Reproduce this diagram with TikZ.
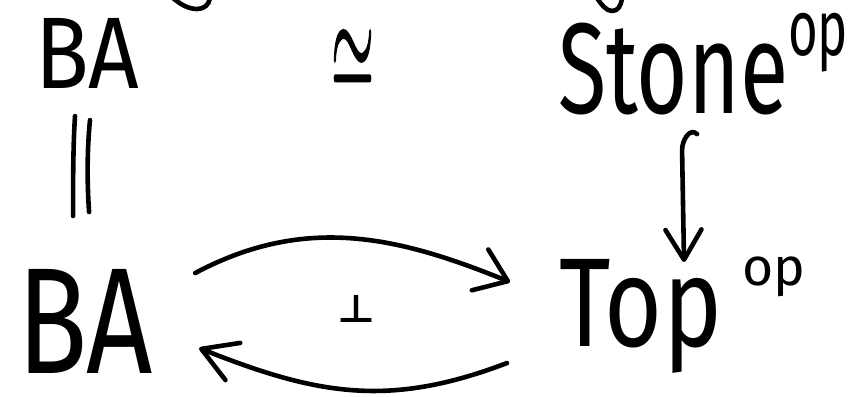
\documentclass[tikz,border=0pt]{standalone}
\usepackage{fontspec}
\setmainfont{Fira Sans}
\newfontfamily\dvsym{DejaVu Sans}
\newfontfamily\lmsym{latinmodern-math.otf}[FakeBold=1.5]
\usepackage{graphicx}
\usetikzlibrary{arrows.meta,calc}
\newcommand{\fitword}[3]{\resizebox*{#1pt}{#2pt}{#3}}
\tikzset{
  pen/.style={line width=4.6pt, line cap=round, line join=round},
  word/.style={inner sep=0pt, outer sep=0pt, anchor=north west}
}
\begin{document}
\begin{tikzpicture}[x=1pt,y=-1pt]
\useasboundingbox[fill=white] (0,0) rectangle (853,396);
% words
\node[word] (baT)    at (35,18)   {\fitword{104}{70}{BA}};
\node[word] (iso)    at (331,30)  {\fitword{43}{69}{\lmsym ≃}};
\node[word] (stone)  at (558,23)  {\fitword{230}{92}{Stone}};
\node[word] (stoneop) at (788,13) {\fitword{60}{59}{op}};
\node[word] (baB)    at (17,269)  {\fitword{136}{104}{BA}};
\node[word] (perp)   at (337,295) {\fitword{38}{27}{\dvsym\bfseries ⊥}};
\node[word] (top)    at (559,259) {\fitword{163}{114}{Top}};
\node[word] (topop)  at (742,257) {\fitword{63}{40}{op}};
% equality
\draw[pen] ($(baT.south)+(-12,28)$) .. controls +(-2,30) and +(0,-30) .. ($(baB.north)+(-12,-53)$);
\draw[pen] ($(baT.south)+(3,32)$) .. controls +(-3,30) and +(-2,-30) .. ($(baB.north)+(4,-57)$);
% inclusion Stone -> Top
\draw[pen, -{Straight Barb[length=30pt, width=36pt, round]}]
  ($(stone.south)+(24,19)$) .. controls +(-7,-7) and +(0,-10) .. ($(stone.south)+(9,35)$)
  -- ($(top.north)+(43.5,3)$);
% adjunction arcs
\draw[pen, -{Straight Barb[length=30pt, width=44pt, round]}]
  ($(baB.east)+(42,-48)$) .. controls +(111,-59) and +(-111,-45) .. ($(top.west)+(-49,-34)$);
\draw[pen, -{Straight Barb[length=34pt, width=40pt, round]}]
  ($(top.west)+(-52,47)$) .. controls +(-118,45) and +(118,47) .. ($(baB.east)+(46,27)$);
% cut-off strokes at the top edge
\draw[pen] (173,-2) .. controls (180,4) and (188,9) .. (197,9) .. controls (204,9) and (209,5) .. (210,-2);
\draw[pen] (597,-2) .. controls (601,4) and (606,11) .. (612,11) .. controls (618,11) and (621,6) .. (622,-2);
\end{tikzpicture}
\end{document}
